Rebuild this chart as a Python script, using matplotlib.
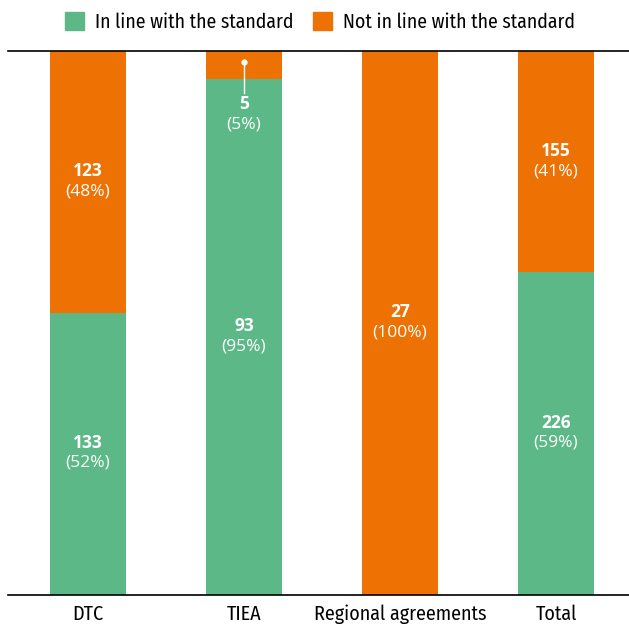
import matplotlib.pyplot as plt
from matplotlib.patches import Patch

categories = ["DTC", "TIEA", "Regional agreements", "Total"]
in_line = [133, 93, 0, 226]
not_in_line = [123, 5, 27, 155]

GREEN = "#5cb987"
ORANGE = "#ee7203"

plt.rcParams['font.family'] = ['Fira Sans Condensed', 'DejaVu Sans']
LABEL_FONT = ['Open Sans', 'DejaVu Sans']

fig = plt.figure(figsize=(6.29, 6.25), dpi=100)
ax = fig.add_axes([0.0127, 0.048, 0.9873, 0.870])

totals = [a + b for a, b in zip(in_line, not_in_line)]
pct_in = [100 * a / t for a, t in zip(in_line, totals)]
pct_out = [100 * b / t for b, t in zip(not_in_line, totals)]
x = list(range(len(categories)))
w = 0.487

ax.bar(x, pct_in, w, color=GREEN)
ax.bar(x, pct_out, w, bottom=pct_in, color=ORANGE)


def label(xc, yc, n, p):
    ax.text(xc, yc + 2.0, f"{n}", ha="center", va="center", color="white",
            fontsize=12.5, fontweight="bold", family=LABEL_FONT)
    ax.text(xc, yc - 1.7, f"({p:.0f}%)", ha="center", va="center",
            color="white", fontsize=12.5, family=LABEL_FONT)


for i in x:
    if in_line[i] > 0:
        label(i, pct_in[i] / 2, in_line[i], pct_in[i])
    if not_in_line[i] > 0:
        if pct_out[i] < 10:
            # small segment: label goes below with a leader line
            top = pct_in[i] + pct_out[i] / 2
            ax.plot([i, i], [top + 0.5, pct_in[i] - 2.6], color="white", lw=1)
            ax.plot([i], [top + 0.5], "o", color="white", ms=3.5)
            label(i, pct_in[i] - 6.6, not_in_line[i], pct_out[i])
        else:
            label(i, pct_in[i] + pct_out[i] / 2, not_in_line[i], pct_out[i])

ax.set_xlim(-0.513, 3.468)
ax.set_ylim(0, 100)
ax.set_yticks([])
ax.set_xticks(x)
ax.set_xticklabels(categories, fontsize=14.4)
ax.tick_params(axis="x", length=0, pad=7)
for s in ["left", "right"]:
    ax.spines[s].set_visible(False)
for s in ["top", "bottom"]:
    ax.spines[s].set_linewidth(1.2)

handles = [Patch(color=GREEN, label="In line with the standard"),
           Patch(color=ORANGE, label="Not in line with the standard")]
fig.legend(handles=handles, loc="center", bbox_to_anchor=(0.509, 0.965),
           ncol=2, frameon=False, fontsize=14.2, handlelength=0.95,
           handleheight=1.05, handletextpad=0.55, columnspacing=1.0)

fig.savefig("out.png", dpi=100)
